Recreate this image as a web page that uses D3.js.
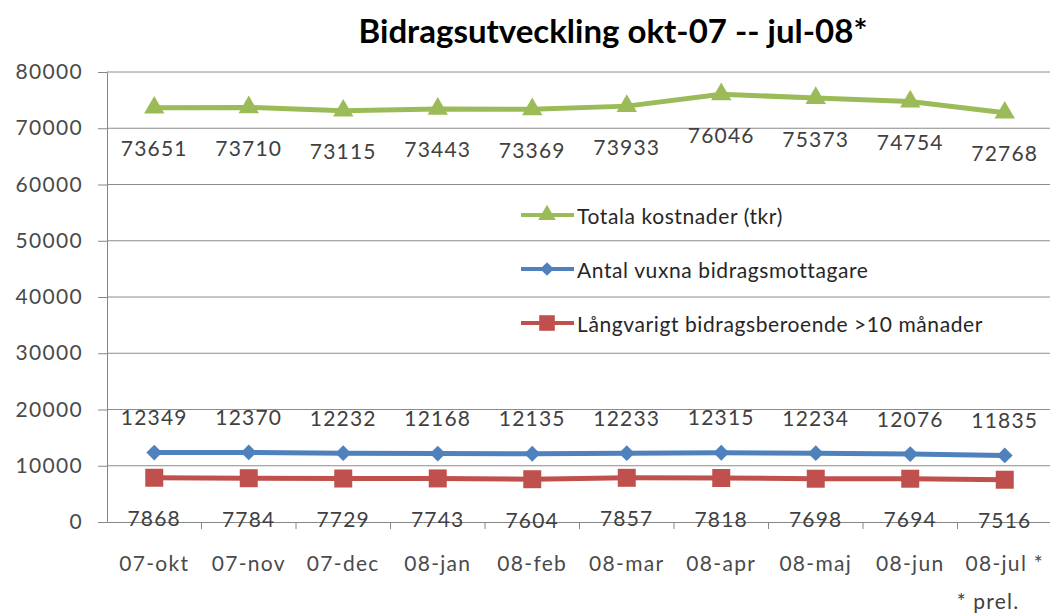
<html>
<head>
<script src="https://d3js.org/d3.v7.min.js"></script>
<style>
body { margin: 0; background: #fff; font-family: Lato, "Open Sans", sans-serif; }
.axis text { fill: #4a4a4a; font-size: 21px; letter-spacing: 1.3px; font-family: Lato, sans-serif; }
.axis path, .axis line { stroke: #868686; }
.grid line { stroke: #8c8c8c; stroke-width: 1; }
.lbl { fill: #404040; font-size: 21px; letter-spacing: 1.2px; }
.leg { fill: #262626; font-size: 21px; letter-spacing: 0.6px; }
</style>
</head>
<body>
<div id="chart"></div>
<script>
var months = ["07-okt","07-nov","07-dec","08-jan","08-feb","08-mar","08-apr","08-maj","08-jun","08-jul *"];
var totala = [73651,73710,73115,73443,73369,73933,76046,75373,74754,72768];
var antal = [12349,12370,12232,12168,12135,12233,12315,12234,12076,11835];
var langvarigt = [7868,7784,7729,7743,7604,7857,7818,7698,7694,7516];
var yTicks = [0,10000,20000,30000,40000,50000,60000,70000,80000];

var series = [
  {name: "Totala kostnader (tkr)", values: totala, color: "#9bbb59", sym: d3.symbolTriangle, size: 180, rot: 0, dy: 40},
  {name: "Antal vuxna bidragsmottagare", values: antal, color: "#4f81bd", sym: d3.symbolSquare, size: 125, rot: 45, dy: -36},
  {name: "Långvarigt bidragsberoende >10 månader", values: langvarigt, color: "#c0504d", sym: d3.symbolSquare, size: 324, rot: 0, dy: 40}
];

var width = 1050, height = 613;
var plotLeft = 107, plotRight = 1052, plotTop = 72, plotBottom = 522;

var svg = d3.select("#chart").append("svg")
  .attr("width", width).attr("height", height);

var x = d3.scaleBand().domain(months).range([plotLeft, plotRight]).padding(0);
var y = d3.scaleLinear().domain([0, 80000]).range([plotBottom, plotTop]);
var cx = d => x(d) + x.bandwidth() / 2;

/* gridlines */
svg.append("g").attr("class", "grid")
  .selectAll("line").data(yTicks.slice(1)).enter()
  .append("line")
  .attr("x1", plotLeft).attr("x2", plotRight)
  .attr("y1", d => y(d)).attr("y2", d => y(d));

/* y axis */
svg.append("g").attr("class", "y axis")
  .attr("transform", `translate(${plotLeft},0)`)
  .call(d3.axisLeft(y).tickValues(yTicks).tickSize(9).tickSizeOuter(0).tickPadding(15).tickFormat(d3.format("d")));

/* x axis */
var xg = svg.append("g").attr("class", "x axis")
  .attr("transform", `translate(0,${plotBottom})`)
  .call(d3.axisBottom(x).tickSize(0).tickSizeOuter(0).tickPadding(34));
xg.selectAll(".bound").data(months.slice(1)).enter()
  .append("line").attr("class", "bound")
  .attr("x1", d => x(d)).attr("x2", d => x(d))
  .attr("y1", 0).attr("y2", 7);

/* lines */
var line = d3.line()
  .x((d, i) => cx(months[i]))
  .y(d => y(d));

series.forEach(function(s) {
  svg.append("path")
    .attr("d", line(s.values))
    .attr("fill", "none")
    .attr("stroke", s.color)
    .attr("stroke-width", 5);
  svg.append("g").selectAll("path").data(s.values).enter()
    .append("path")
    .attr("d", d3.symbol().type(s.sym).size(s.size))
    .attr("transform", (d, i) => `translate(${cx(months[i])},${y(d)}) rotate(${s.rot})`)
    .attr("fill", s.color);
  svg.append("g").selectAll("text").data(s.values).enter()
    .append("text").attr("class", "lbl")
    .attr("x", (d, i) => cx(months[i]))
    .attr("y", d => y(d) + s.dy)
    .attr("text-anchor", "middle")
    .attr("dominant-baseline", "central")
    .text(d => d);
});

/* legend */
var leg = svg.append("g").attr("transform", "translate(521,215)");
series.forEach(function(s, i) {
  var g = leg.append("g").attr("transform", `translate(0,${i * 54})`);
  g.append("line").attr("x1", 0).attr("x2", 53).attr("y1", 0).attr("y2", 0)
    .attr("stroke", s.color).attr("stroke-width", 4);
  g.append("path").attr("d", d3.symbol().type(s.sym).size(s.size * 0.75))
    .attr("transform", `translate(26,0) rotate(${s.rot})`).attr("fill", s.color);
  g.append("text").attr("class", "leg").attr("x", 56).attr("y", 0)
    .attr("dominant-baseline", "central").text(s.name);
});

/* title */
svg.append("text")
  .attr("x", 613).attr("y", 43)
  .attr("text-anchor", "middle")
  .style("font-size", "33px").style("font-weight", "bold").style("fill", "#000")
  .text("Bidragsutveckling okt-07 -- jul-08*");

svg.append("text")
  .attr("x", 988).attr("y", 600)
  .attr("text-anchor", "middle")
  .attr("dominant-baseline", "central")
  .attr("class", "lbl")
  .text("* prel.");
</script>
</body>
</html>
